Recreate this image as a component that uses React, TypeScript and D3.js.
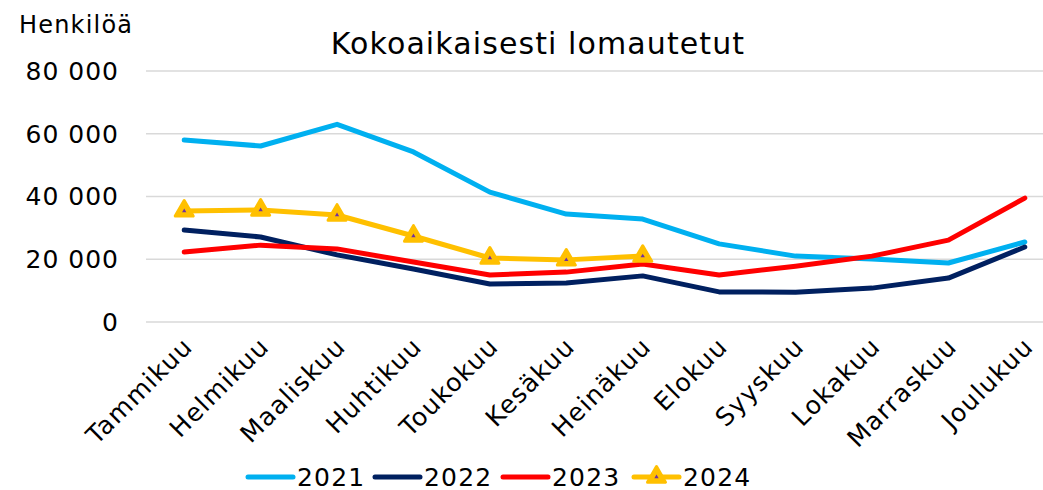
import * as d3 from "d3";
import { useEffect, useRef } from "react";

// ---- data ----
const months = ["Tammikuu", "Helmikuu", "Maaliskuu", "Huhtikuu", "Toukokuu", "Kesäkuu", "Heinäkuu", "Elokuu", "Syyskuu", "Lokakuu", "Marraskuu", "Joulukuu"];
const v2021 = [58000, 56100, 63000, 54200, 41400, 34400, 32800, 24900, 21000, 20100, 18800, 25500];
const v2022 = [29300, 27100, 21400, 16900, 12100, 12400, 14700, 9600, 9500, 10800, 14000, 23900];
const v2023 = [22300, 24500, 23300, 19100, 15000, 15900, 18500, 15000, 17800, 21000, 26100, 39500];
const v2024 = [35400, 35700, 34100, 27400, 20400, 19800, 21000];
const yTicks = [0, 20000, 40000, 60000, 80000];
const years = ["2021", "2022", "2023", "2024"];

const font = "'DejaVu Sans', Verdana, sans-serif";

export default function App() {
    const ref = useRef<SVGSVGElement | null>(null);

    useEffect(() => {
        const width = 1043;
        const height = 490;
        const margin = { top: 71, right: -20, bottom: 168, left: 146 };

        const svg = d3.select(ref.current);
        svg.selectAll("*").remove();

        const innerW = width - margin.left - margin.right;
        const innerH = height - margin.top - margin.bottom;

        const x = d3.scaleBand().domain(months).range([0, innerW]);
        const y = d3.scaleLinear().domain([0, 80000]).range([innerH, 0]);
        const cx = (i: number) => (x(months[i]) ?? 0) + x.bandwidth() / 2;

        const g = svg.append("g").attr("transform", `translate(${margin.left},${margin.top})`);

        // gridlines
        g.append("g")
            .selectAll("line")
            .data(yTicks)
            .join("line")
            .attr("x1", 0)
            .attr("x2", width - margin.left)
            .attr("y1", (d) => y(d))
            .attr("y2", (d) => y(d))
            .attr("stroke", "#d9d9d9")
            .attr("stroke-width", 1.5);

        // y labels
        const fmt = (d: number) => d3.format(",")(d).replace(/,/g, " ");
        g.append("g")
            .selectAll("text")
            .data(yTicks)
            .join("text")
            .attr("x", -27)
            .attr("y", (d) => y(d))
            .attr("dy", "0.35em")
            .attr("text-anchor", "end")
            .attr("font-family", font)
            .attr("font-size", 25)
            .attr("letter-spacing", 1)
            .attr("fill", "#000")
            .text(fmt);

        // x labels
        g.append("g")
            .selectAll("text")
            .data(months)
            .join("text")
            .attr("transform", (_, i) => `translate(${cx(i) + 10},${innerH + 26}) rotate(-45)`)
            .attr("text-anchor", "end")
            .attr("font-family", font)
            .attr("font-size", 25)
            .attr("letter-spacing", 1.3)
            .attr("fill", "#000")
            .text((d) => d);

        const series = [
            { name: "2021", values: v2021, color: "#00B0F0" },
            { name: "2022", values: v2022, color: "#002060" },
            { name: "2023", values: v2023, color: "#FF0000" },
            { name: "2024", values: v2024, color: "#FFC000" },
        ];

        const line = d3
            .line<number>()
            .x((_, i) => cx(i))
            .y((d) => y(d));

        series.forEach((s) => {
            g.append("path")
                .datum(s.values)
                .attr("d", line)
                .attr("fill", "none")
                .attr("stroke", s.color)
                .attr("stroke-width", 5)
                .attr("stroke-linejoin", "round")
                .attr("stroke-linecap", "round");
        });

        // 2024 markers
        const tri = d3.symbol().type(d3.symbolTriangle).size(140);
        const small = d3.symbol().type(d3.symbolTriangle).size(8);
        const m = g.append("g")
            .selectAll("g")
            .data(v2024)
            .join("g")
            .attr("transform", (d, i) => `translate(${cx(i)},${y(d)})`);
        m.append("path")
            .attr("d", tri)
            .attr("fill", "#FFC000")
            .attr("stroke", "#FFC000")
            .attr("stroke-width", 3)
            .attr("stroke-linejoin", "round");
        m.append("path").attr("d", small).attr("fill", "#7030A0");

        // title
        svg.append("text")
            .attr("x", 538)
            .attr("y", 54)
            .attr("text-anchor", "middle")
            .attr("font-family", font)
            .attr("font-size", 30)
            .attr("letter-spacing", 1.1)
            .attr("fill", "#000")
            .text("Kokoaikaisesti lomautetut");

        svg.append("text")
            .attr("x", 19)
            .attr("y", 33)
            .attr("font-family", font)
            .attr("font-size", 24)
            .attr("letter-spacing", 1.2)
            .attr("fill", "#000")
            .text("Henkilöä");

        // legend
        const legendX = [248, 375, 503, 634];
        const ly = 477;
        const lg = svg.append("g")
            .selectAll("g")
            .data(series)
            .join("g")
            .attr("transform", (_, i) => `translate(${legendX[i]},${ly})`);
        lg.append("line")
            .attr("x1", 0)
            .attr("x2", 45)
            .attr("stroke", (d) => d.color)
            .attr("stroke-width", 5)
            .attr("stroke-linecap", "round");
        lg.filter((d) => d.name === "2024")
            .append("path")
            .attr("transform", "translate(22.5,0)")
            .attr("d", tri)
            .attr("fill", "#FFC000")
            .attr("stroke", "#FFC000")
            .attr("stroke-width", 3)
            .attr("stroke-linejoin", "round");
        lg.filter((d) => d.name === "2024")
            .append("path")
            .attr("transform", "translate(22.5,0)")
            .attr("d", small)
            .attr("fill", "#7030A0");
        lg.append("text")
            .attr("x", 49)
            .attr("dy", "0.35em")
            .attr("font-family", font)
            .attr("font-size", 25)
            .attr("letter-spacing", 1.2)
            .attr("fill", "#000")
            .text((_, i) => years[i]);
    }, []);

    return (
        <svg
            ref={ref}
            width={1043}
            height={490}
            style={{ position: "absolute", left: 0, top: 0, background: "#fff" }}
        />
    );
}
